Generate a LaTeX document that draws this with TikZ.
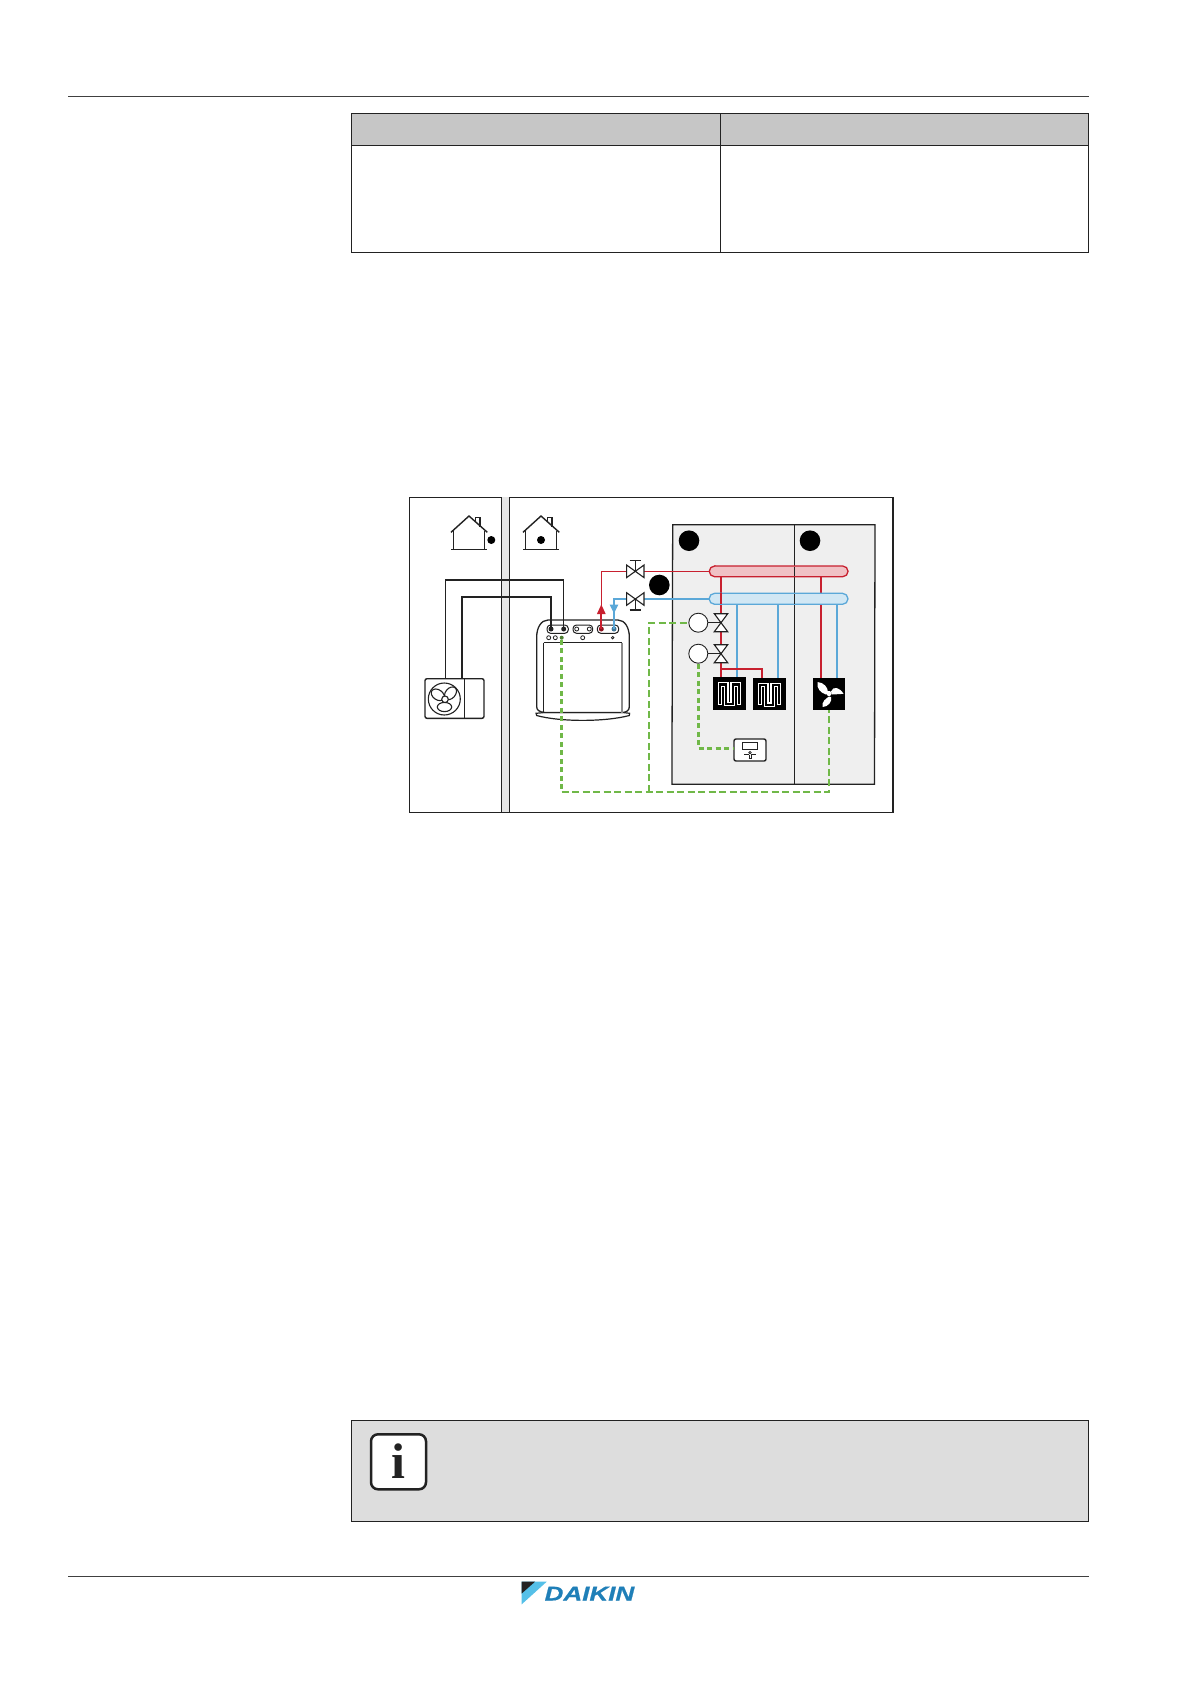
\documentclass[tikz,border=0pt]{standalone}
\usepackage{graphicx}
\usepackage{fontspec}
\setmainfont{Liberation Sans}
\newfontfamily\logofont[FakeBold=0.6]{Liberation Sans Bold Italic}
\newfontfamily\iconfont{Liberation Serif Bold}
\definecolor{hp}{HTML}{C8202F}
\definecolor{cp}{HTML}{5BA8D8}
\definecolor{gp}{HTML}{70B848}
\definecolor{dk}{HTML}{222222}
\definecolor{panel}{HTML}{EFEFEF}
\definecolor{wallc}{HTML}{E6E6E6}
\definecolor{hdr}{HTML}{C6C6C6}
\definecolor{note}{HTML}{DDDDDD}
\definecolor{lgb}{HTML}{1F7FB8}
\definecolor{lgl}{HTML}{55C0E8}
\tikzset{
  rule/.style={draw=black!75,line width=0.9pt},
  cell/.style={draw=dk,line width=0.8pt},
  ln/.style={draw=dk,line width=1.1pt},
  wire/.style={draw=dk,line width=1.8pt},
  hotl/.style={draw=hp,line width=1.7pt},
  coldl/.style={draw=cp,line width=1.7pt},
  ctrl/.style={draw=gp,line width=2pt,dash pattern=on 7pt off 3.5pt},
  ctrlb/.style={draw=gp,line width=2.6pt,dash pattern=on 5pt off 3.5pt},
  bigdot/.style={circle,fill=black,inner sep=0pt,minimum size=20.6pt},
  actuator/.style={circle,draw=dk,fill=white,line width=0.9pt,inner sep=0pt,minimum size=19pt},
  emitter/.style={rectangle,fill=black,inner sep=0pt},
  coil/.style={draw=white,double=black,line width=1.1pt,double distance=2.3pt,line join=miter},
  coilend/.style={draw=white,line width=1.1pt},
  pill/.style={rounded corners=3.5pt,draw=dk,fill=white,line width=1pt},
  pindot/.style={circle,fill=dk,inner sep=0pt,minimum size=5pt},
  opendot/.style={circle,draw=dk,fill=white,line width=0.8pt,inner sep=0pt,minimum size=4pt}
}
\begin{document}
\begin{tikzpicture}[x=1pt,y=-1pt]
\useasboundingbox (0,0) rectangle (1191,1684);
\fill[white] (0,0) rectangle (1191,1684);
% page rules
\draw[rule] (68,96) -- (1088.5,96);
\draw[rule] (68,1576.3) -- (1088.5,1576.3);
% table
\fill[hdr] (351,113) rectangle (1088,145);
\draw[cell] (351,113) rectangle (1088,252.4);
\draw[cell] (351,145) -- (1088,145);
\draw[cell] (720,113) -- (720,252.4);
% figure frame and wall
\draw[ln] (409.3,497.3) rectangle (893,812.2);
\fill[wallc] (501.5,497.3) rectangle (509.3,812.2);
\draw[ln] (501.5,497.3) -- (501.5,812.2);
\draw[ln] (509.3,497.3) -- (509.3,812.2);
% houses
\foreach \dx/\dotx in {0/491.3,72/541}{
  \begin{scope}[xshift=\dx pt]
  \draw[ln,line width=1.1pt] (475.3,522) -- (475.3,517.7) -- (480,517.7) -- (480,526.5);
  \draw[ln,line width=1.4pt] (451,532.3) -- (469,516) -- (487.3,532.3);
  \draw[ln] (453.3,530.5) -- (453.3,549.3);
  \draw[ln] (484.3,530.5) -- (484.3,549.3);
  \draw[ln] (451,549.3) -- (486.7,549.3);
  \end{scope}
  \fill[black] (\dotx,540) circle[radius=4pt];
}
% room panel
\draw[ln,fill=panel,line width=1.3pt] (672.7,524.7) -- (875,524.7) -- (874.5,784.3) -- (671.9,784.3) -- cycle;
\draw[ln] (794.3,524.7) -- (794.3,784.3);
\node[bigdot] (d1) at (689,540.7) {};
\node[bigdot] (d2) at (810,540.7) {};
\node[bigdot] (d3) at (659.3,585) {};
% outdoor unit
\draw[ln,fill=white,line width=1.4pt,rounded corners=2pt] (425,678.7) rectangle (484,718.3);
\draw[ln] (464.3,678.7) -- (464.3,718.3);
\coordinate (ouA) at (445.7,678.7);
\coordinate (ouB) at (462,678.7);
\draw[ln] (444.3,699) circle[radius=16pt];
\draw[ln,fill=white] (437.8,694.8) ellipse[x radius=7.2pt,y radius=5pt,rotate=-35];
\draw[ln,fill=white] (450.5,693.3) ellipse[x radius=7.2pt,y radius=5pt,rotate=50];
\draw[ln,fill=white] (444.5,707) ellipse[x radius=7.2pt,y radius=4.6pt];
\draw[ln,fill=white] (445,699.3) circle[radius=3.3pt];
% indoor unit
\draw[ln,line width=1.2pt,fill=white] (536,713.3) -- (536.7,715.5) .. controls (560,722) and (605,722) .. (629.3,715.5) -- (629.6,713.3) -- (623,712.5) -- (545,712.5) -- cycle;
\draw[ln,line width=1.3pt,fill=white] (545,712.5) .. controls (539,712) and (536.7,710) .. (536.7,706.7) -- (536.7,636.7) .. controls (536.7,628) and (541,620) .. (548,620) -- (618,620) .. controls (625,620) and (629.3,628) .. (629.3,636.7) -- (629.3,706.7) .. controls (629.3,710) and (627,712) .. (623,712.5) -- cycle;
\draw[ln,line width=1pt] (543.7,642.7) -- (543.7,712.5);
\draw[draw=black!45,line width=1.2pt] (622,642.7) -- (622,712.5);
\draw[ln,line width=1pt] (543.7,642.7) -- (622,642.7);
\draw[pill] (547,625) rectangle (568.3,633.3);
\draw[pill] (573,625) rectangle (592.7,633.3);
\draw[pill] (597.3,625) rectangle (618.7,633.3);
\node[pindot] (p1) at (551,629) {};
\node[pindot] (p2) at (563.7,629) {};
\node[opendot] (p3) at (576.7,629) {};
\node[opendot] (p4) at (589.3,629) {};
\node[pindot,fill=hp!70!black] (p5) at (601.3,629) {};
\node[pindot,fill=cp!70!black] (p6) at (614,629) {};
\node[opendot] (s1) at (548.7,637.7) {};
\node[opendot] (s2) at (555.3,637.7) {};
\node[pindot,fill=gp!70!black,minimum size=4pt] (s3) at (561.7,637.7) {};
\node[opendot] (s4) at (582.7,637.7) {};
\node[opendot,minimum size=2.5pt] (s5) at (612.7,637.7) {};
% refrigerant wires
\coordinate (w1) at (445.7,580);
\coordinate (w2) at (462,597);
\draw[wire,line width=1.5pt,line join=miter] (ouA) -- (w1) -| (p2.center);
\draw[wire,line join=miter] (ouB) -- (w2) -| (p1.center);
% manifolds
\coordinate (hm) at (709.3,571.3);
\coordinate (cm) at (709.3,599);
\coordinate (v1) at (635.3,571.3);
\coordinate (v2) at (635.3,599);
% main pipes
\coordinate (rt) at (601.3,610);
\draw[draw=hp,line width=1.1pt] (v1) -| (rt);
\draw[hotl,line width=2pt] (rt) -- (p5.center);
\draw[coldl] (v2) -| (p6.center);
\draw[hp,line width=1.1pt] (v1) -- (hm);
\draw[coldl] (v2) -- (cm);
\fill[hp] (601.3,604.5) -- (605.7,614) -- (596.9,614) -- cycle;
\fill[cp] (609.7,604.7) -- (618.3,604.7) -- (614,613.3) -- cycle;
% service valves
\foreach \vy/\sy in {571.3/560.7,599/610}{
  \draw[ln] (635.3,\vy) -- (635.3,\sy);
  \draw[ln] (629.6,\sy) -- (641,\sy);
  \draw[ln,fill=white] (626.6,\vy-6.3) -- (644,\vy+6.3) -- (644,\vy-6.3) -- (626.6,\vy+6.3) -- cycle;
}
% emitter pipes
\coordinate (h1) at (721,576.7);
\coordinate (h2) at (821,576.7);
\coordinate (c1) at (737,604.3);
\coordinate (c2) at (778,604.3);
\coordinate (c3) at (837,604.3);
\node[emitter,minimum width=33pt,minimum height=33pt] (e1) at (729.5,693.5) {};
\node[emitter,minimum width=33pt,minimum height=32pt] (e2) at (769.5,694) {};
\node[emitter,minimum width=32pt,minimum height=32pt] (e3) at (829,694) {};
\coordinate (e1h) at (721,677);
\coordinate (e1c) at (737,677);
\coordinate (e2h) at (762.3,678);
\coordinate (e2c) at (778,678);
\coordinate (e3h) at (821,678);
\coordinate (e3c) at (837,678);
\coordinate (jn) at (721,669);
\draw[coldl] (c1) -- (e1c);
\draw[coldl] (c2) -- (e2c);
\draw[coldl] (c3) -- (e3c);
\draw[hotl] (h1) -- (e1h);
\draw[hotl] (jn) -| (e2h);
\draw[hotl] (h2) -- (e3h);
% manifold bars
\draw[draw=hp,fill=hp!28,line width=1.3pt] (714.6,566) -- (842.7,566) arc[start angle=90,end angle=-90,radius=5.35pt] -- (714.6,576.7) arc[start angle=-90,end angle=-270,radius=5.35pt] -- cycle;
\draw[draw=cp,fill=cp!28,line width=1.3pt] (714.6,593.3) -- (842.5,593.3) arc[start angle=90,end angle=-90,radius=5.5pt] -- (714.6,604.3) arc[start angle=-90,end angle=-270,radius=5.5pt] -- cycle;
\draw[hotl] (721,593.3) -- (721,604.3);
\draw[draw=dk,line width=0.6pt] (794.3,566.6) -- (794.3,576);
\draw[draw=dk,line width=0.6pt] (794.3,594) -- (794.3,603.6);
% actuated valves
\node[actuator] (a1) at (698.3,622.7) {};
\node[actuator] (a2) at (698.3,653.7) {};
\coordinate (m1) at (721,622.7);
\coordinate (m2) at (721,653.7);
\draw[ln] (a1) -- (m1);
\draw[ln] (a2) -- (m2);
\foreach \vy in {622.7,653.7}{
  \draw[ln,fill=white] (714.3,\vy-9) -- (727.7,\vy-9) -- (714.3,\vy+9) -- (727.7,\vy+9) -- cycle;
}
% coils
\foreach \ox/\oy in {713.3/677.8,753.3/678.4}{
  \begin{scope}[shift={(\ox,\oy)}]
  \draw[coil] (6.55,26.3) -- (6.55,6.55) -- (12.95,6.55) -- (12.95,26.3) -- (19.35,26.3) -- (19.35,6.55) -- (25.75,6.55) -- (25.75,26.3);
  \draw[coilend] (4.3,26.3) -- (8.8,26.3);
  \draw[coilend] (23.5,26.3) -- (28,26.3);
  \end{scope}
}
% fan
\begin{scope}[shift={(829,693.5)}]
\fill[white] (-1,-1) .. controls (-1,-6) and (-5,-11) .. (-11.5,-11.5) .. controls (-13,-5) and (-8,-0.5) .. (-3,1) -- cycle;
\fill[white] (2,-2) .. controls (4,-8) and (11,-6) .. (14.5,0.3) .. controls (9,0.8) and (5,0.8) .. (3,1) -- cycle;
\fill[white] (0,3) .. controls (-3,5) and (-7.5,8) .. (-6.5,13.5) .. controls (-1,13.5) and (3.5,8) .. (2,3.5) -- cycle;
\fill[white] (0,0) circle[radius=2.6pt];
\end{scope}
% thermostat
\draw[ln,fill=white,line width=1.4pt,rounded corners=2pt] (734,739) rectangle (766,761);
\node[inner sep=0pt,minimum size=0pt] (th) at (734,748.3) {};
\draw[ln,line width=0.9pt] (742,742.3) rectangle (757.7,749.3);
\draw[ln,line width=0.8pt] (750,752.6) circle[radius=1.2pt];
\draw[ln,line width=0.8pt] (744,754.6) -- (749,754.6);
\draw[ln,line width=0.8pt] (751,754.6) -- (756,754.6);
\draw[ln,line width=0.8pt] (748.5,758.5) -- (751.5,758.5);
\draw[ln,line width=0.8pt] (749,754.6) -- (749,758.5);
\draw[ln,line width=0.8pt] (751,754.6) -- (751,758.5);
% control lines
\coordinate (g1) at (561.7,791.7);
\coordinate (g2) at (829,791.7);
\coordinate (g3) at (649,791.7);
\coordinate (g4) at (649,622.7);
\coordinate (g5) at (698.3,748.3);
\draw[ctrlb] (s3.south) -- (g1);
\draw[ctrl] (g1) -- (g2) -- (e3.south);
\draw[ctrl] (g3) -- (g4) -- (a1.west);
\draw[ctrlb] (a2.south) -- (g5) -- (th.center);
% note box
\draw[cell,fill=note] (351,1420) rectangle (1088,1521);
\draw[draw=dk,fill=white,line width=2.5pt,rounded corners=7pt] (371,1434.3) rectangle (426,1489.3);
\node[font=\iconfont\fontsize{50}{50}\selectfont,text=dk,inner sep=0pt,anchor=base] (ii) at (398.5,1478.5) {i};
% logo
\fill[lgl] (521.7,1581.7) -- (546.7,1581.7) -- (521.7,1604.3) -- cycle;
\fill[dk] (521.7,1581.7) -- (535,1581.7) -- (521.7,1593.5) -- cycle;
\node[inner sep=0pt,text=lgb,font=\logofont\fontsize{20}{20}\selectfont,anchor=base west] (logo) at (544.5,1600.5) {\scalebox{1.3}[1]{DAIKIN}};
\end{tikzpicture}
\end{document}
